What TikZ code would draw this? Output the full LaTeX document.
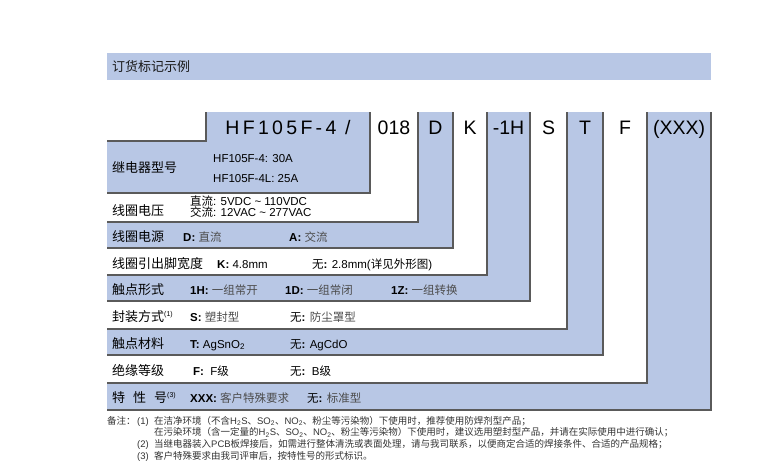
\documentclass[tikz,border=0pt]{standalone}
\usepackage{fontspec}
\setmainfont{Liberation Sans}
\newfontfamily\zhfont{Noto Sans CJK SC}
\newcommand{\zh}[1]{{\zhfont #1}}
\newcommand{\zhg}[1]{{\zhfont\color{black!70}#1}}
\usepackage{tikz}
\usepackage{xcolor}
\definecolor{bandblue}{HTML}{B8C7E5}
\definecolor{edgegray}{HTML}{5A5A5A}

\begin{document}
\begin{tikzpicture}[
  x=1pt, y=-1pt,
  edge/.style={draw=edgegray, line width=1.2pt},
  code/.style={anchor=base, inner sep=0pt, font=\fontsize{19.5}{20}\selectfont},
  rowlabel/.style={anchor=base west, inner sep=0pt, font=\fontsize{13}{14}\zhfont},
  val/.style={anchor=base west, inner sep=0pt, font=\fontsize{11.5}{12}\selectfont},
  note/.style={anchor=base west, inner sep=0pt, font=\fontsize{9.5}{10}\selectfont, black!80}
]
  \useasboundingbox (0,0) rectangle (759,469);

  % title band
  \fill[bandblue] (107,53) rectangle (711,80);
  \node[rowlabel, black!90] (title) at (112,71.5) {订货标记示例};

  % nested L boxes, back to front
  \foreach \r/\b/\c in {711/410/bandblue, 647/383/white, 603/355/bandblue,
      567/329/white, 530/301/bandblue, 487/275/white, 453/248/bandblue,
      418/222/white, 370/193/bandblue}{
    \fill[\c] (206,112) -- (\r,112) -- (\r,\b) -- (107,\b) -- (107,141) -- (206,141) -- cycle;
    \draw[edge] (\r,112) -- (\r,\b) -- (107,\b);
  }
  \draw[edge] (107,141) -- (206,141) -- (206,112);

  % code line
  \node[code, font=\fontsize{19.5}{20}\selectfont\addfontfeatures{LetterSpace=17}] (cmodel) at (288,134) {HF105F-4 /};
  \node[code] (cvolt) at (394,134) {018};
  \node[code] (cpower) at (435.5,134) {D};
  \node[code] (cpin) at (470,134) {K};
  \node[code] (cform) at (508.5,134) {-1H};
  \node[code] (cseal) at (548.5,134) {S};
  \node[code] (cmat) at (585,134) {T};
  \node[code] (cins) at (625,134) {F};
  \node[code] (cspec) at (679,134) {(XXX)};

  % row labels
  \node[rowlabel] (lmodel) at (112,172) {继电器型号};
  \node[rowlabel] (lvolt) at (112,215) {线圈电压};
  \node[rowlabel] (lpower) at (112,241) {线圈电源};
  \node[rowlabel] (lpin) at (112,268) {线圈引出脚宽度};
  \node[rowlabel] (lform) at (112,294) {触点形式};
  \node[rowlabel] (lseal) at (112,321) {封装方式\textsuperscript{\rmfamily\fontsize{7}{7}\selectfont(1)}};
  \node[rowlabel] (lmat) at (112,348) {触点材料};
  \node[rowlabel] (lins) at (112,375) {绝缘等级};
  \node[rowlabel] (lspec) at (112,402) {特\hspace{8pt}性\hspace{8pt}号\textsuperscript{\rmfamily\fontsize{7}{7}\selectfont(3)}};

  % values
  \node[val] (vmodela) at (213,162) {HF105F-4: 30A};
  \node[val] (vmodelb) at (213,182) {HF105F-4L: 25A};
  \node[val] (vvolta) at (190,205) {\zh{直流}: 5VDC \textasciitilde{} 110VDC};
  \node[val] (vvoltb) at (190,216) {\zh{交流}: 12VAC \textasciitilde{} 277VAC};
  \node[val] (vpowera) at (183,241) {\textbf{D:} \zhg{直流}};
  \node[val] (vpowerb) at (289,241) {\textbf{A:} \zhg{交流}};
  \node[val] (vpina) at (217,268) {\textbf{K:} 4.8mm};
  \node[val] (vpinb) at (312,268) {\zh{无}\textbf{:} 2.8mm(\zh{详见外形图})};
  \node[val] (vforma) at (190,294) {\textbf{1H:} \zhg{一组常开}};
  \node[val] (vformb) at (285,294) {\textbf{1D:} \zhg{一组常闭}};
  \node[val] (vformc) at (391,294) {\textbf{1Z:} \zhg{一组转换}};
  \node[val] (vseala) at (190,321) {\textbf{S:} \zhg{塑封型}};
  \node[val] (vsealb) at (290,321) {\zh{无}\textbf{:} \zhg{防尘罩型}};
  \node[val] (vmata) at (190,348) {\textbf{T:} AgSnO\textsubscript{2}};
  \node[val] (vmatb) at (290,348) {\zh{无}\textbf{:} AgCdO};
  \node[val] (vinsa) at (193,375) {\textbf{F:}\ \ F\zh{级}};
  \node[val] (vinsb) at (290,375) {\zh{无}\textbf{:}\ \ B\zh{级}};
  \node[val] (vspeca) at (190,402) {\textbf{XXX:} \zhg{客户特殊要求}};
  \node[val] (vspecb) at (307,402) {\zh{无}\textbf{:} \zhg{标准型}};

  % remarks
  \node[note] (nhead) at (107,424) {\zh{备注：}};
  \node[note] (none) at (137,424) {(1)};
  \node[note] (tonea) at (154,424) {\zh{在洁净环境（不含}H\textsubscript{2}S\zh{、}SO\textsubscript{2}\zh{、}NO\textsubscript{2}\zh{、粉尘等污染物）下使用时，推荐使用防焊剂型产品；}};
  \node[note] (toneb) at (154,435.5) {\zh{在污染环境（含一定量的}H\textsubscript{2}S\zh{、}SO\textsubscript{2}\zh{、}NO\textsubscript{2}\zh{、粉尘等污染物）下使用时，建议选用塑封型产品，并请在实际使用中进行确认；}};
  \node[note] (ntwo) at (137,447) {(2)};
  \node[note] (ttwo) at (154,447) {\zh{当继电器装入}PCB\zh{板焊接后，如需进行整体清洗或表面处理，请与我司联系，以便商定合适的焊接条件、合适的产品规格；}};
  \node[note] (nthree) at (137,459) {(3)};
  \node[note] (tthree) at (154,459) {\zh{客户特殊要求由我司评审后，按特性号的形式标识。}};
\end{tikzpicture}
\end{document}
